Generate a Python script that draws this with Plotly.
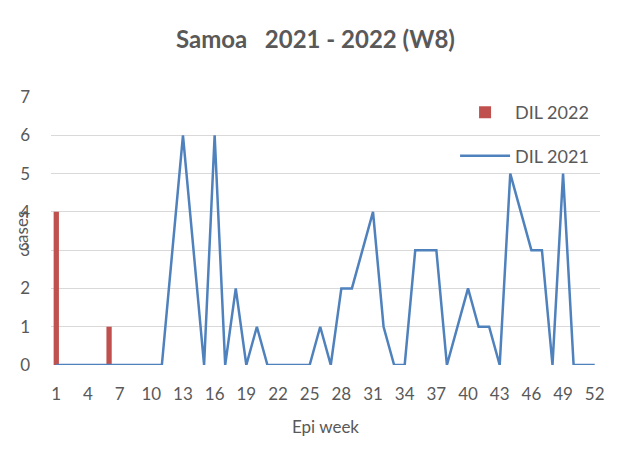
import plotly.graph_objects as go

weeks = list(range(1, 53))
tick_weeks = list(range(1, 53, 3))

dil_2022 = [4, 0, 0, 0, 0, 1, 0, 0]
dil_2021 = [0, 0, 0, 0, 0, 0, 0, 0, 0, 0, 0, 3, 6, 3, 0, 6, 0, 2, 0, 1,
            0, 0, 0, 0, 0, 1, 0, 2, 2, 3, 4, 1, 0, 0, 3, 3, 3, 0, 1, 2,
            1, 1, 0, 5, 4, 3, 3, 0, 5, 0, 0, 0]

grey = "#595959"
font = "Lato"

fig = go.Figure()
fig.add_trace(go.Bar(x=weeks[:len(dil_2022)], y=dil_2022, name="DIL 2022",
                     marker=dict(color="#c0504d", line=dict(width=0)),
                     width=0.5, legendgroup="a"))
fig.add_trace(go.Scatter(x=weeks, y=dil_2021, name="DIL 2021", mode="lines",
                         line=dict(color="#4f81bd", width=2.5),
                         legendgroup="b"))

# page body adds 8px offset, so the figure is 8px smaller
fig.update_layout(
    width=615, height=461,
    margin=dict(l=43, r=23, t=89, b=104),
    plot_bgcolor="white", paper_bgcolor="white",
    font=dict(family=font, color=grey, size=17),
    title=dict(text="<b>Samoa   2021 - 2022 (W8)</b>", x=0.5, xanchor="center",
               y=1 - 32 / 461, yanchor="middle", font=dict(size=24, color=grey)),
    showlegend=True,
    legend=dict(x=0.736, y=1.011, xanchor="left", yanchor="top",
                bgcolor="rgba(0,0,0,0)", font=dict(size=18, color=grey),
                traceorder="grouped", tracegroupgap=17, itemwidth=50),
    xaxis=dict(range=[0.5, 52.5], tickvals=tick_weeks, showgrid=False,
               zeroline=False, showline=False, ticks="", ticklabelstandoff=17,
               title=dict(text="Epi week", standoff=18, font=dict(size=17))),
    yaxis=dict(range=[0, 7], dtick=1, showgrid=True, gridcolor="#d9d9d9",
               gridwidth=1, zeroline=False, showline=False, ticks="",
               ticklabelstandoff=20),
    annotations=[dict(text="cases", xref="paper", yref="paper",
                      x=-30 / 549, y=0.5, xanchor="center", yanchor="middle",
                      textangle=-90, showarrow=False,
                      font=dict(size=17, color=grey))],
)

fig.write_html("out.html")
